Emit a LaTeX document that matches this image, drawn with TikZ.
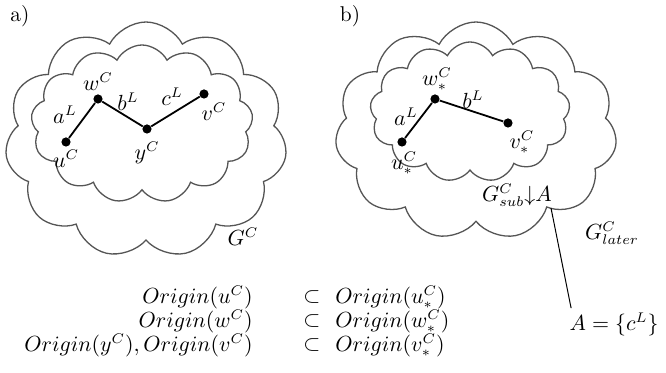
\documentclass[tikz,border=0pt]{standalone}
\usepackage{tikz}
\usetikzlibrary{shapes.symbols}
\definecolor{cCloud}{HTML}{555555}
\tikzset{
  cloud-box/.style={draw=cCloud,line width=0.65pt,cloud,cloud puffs=11,
    cloud puff arc=125,cloud ignores aspect,inner sep=0pt},
  graph-dot/.style={circle,fill=black,inner sep=0pt,minimum size=4.6pt},
  graph-edge/.style={line width=0.9pt,draw=black},
  lbl/.style={inner sep=0pt},
}
\begin{document}
\begin{tikzpicture}[x=0.5pt,y=-0.5pt, every node/.style={font=\fontsize{10.7}{12}\selectfont}]
  \useasboundingbox (0,0) rectangle (666,373);
  % a) -- graph before
  \node at (20,16) {a)};
  \node[cloud-box,minimum width=141pt,minimum height=118pt] (outerA) at (146,140) {};
  \node[cloud-box,minimum width=111pt,minimum height=79pt,cloud puffs=13] (innerA) at (142,124) {};
  \node[graph-dot] (uA) at (66,142) {};
  \node[graph-dot] (wA) at (98,99) {};
  \node[graph-dot] (yA) at (147,129) {};
  \node[graph-dot] (vA) at (204,94) {};
  \draw[graph-edge] (uA) -- (wA) -- (yA) -- (vA);
  \node[lbl] (uAl) at (66,159) {$u^C$};
  \node[lbl] (wAl) at (98,82) {$w^C$};
  \node[lbl] (yAl) at (147,153) {$y^C$};
  \node[lbl] (vAl) at (214,112) {$v^C$};
  \node[lbl] (aAl) at (65,115) {$a^L$};
  \node[lbl] (bAl) at (128,102) {$b^L$};
  \node[lbl] (cAl) at (172,97) {$c^L$};
  \node[lbl] (gA) at (243,237) {$G^C$};
  % b) -- graph after
  \node at (350,16) {b)};
  \node[cloud-box,minimum width=141pt,minimum height=109pt] (outerB) at (476,131) {};
  \node[cloud-box,minimum width=100pt,minimum height=70pt,cloud puffs=13] (innerB) at (470,112) {};
  \node[graph-dot] (uB) at (402,142) {};
  \node[graph-dot] (wB) at (435,99) {};
  \node[graph-dot] (vB) at (508,123) {};
  \draw[graph-edge] (uB) -- (wB) -- (vB);
  \node[lbl] (uBl) at (404,163) {$u^C_*$};
  \node[lbl] (wBl) at (437,79) {$w^C_*$};
  \node[lbl] (vBl) at (522,142) {$v^C_*$};
  \node[lbl] (aBl) at (406,117) {$a^L$};
  \node[lbl] (bBl) at (473,100) {$b^L$};
  \node[lbl] (gsub) at (517,195) {$G^C_{sub}{\downarrow}A$};
  \node[lbl] (glater) at (612,233) {$G^C_{later}$};
  \node[lbl] (aset) at (614,324) {$A=\{c^L\}$};
  \coordinate (selA) at (551,208);
  \draw[line width=0.5pt] (selA) -- ([shift={(2,-4)}]aset.north west);
  % origin relations
  \foreach \l/\r/\y in {{u^C}/{u^C_*}/297, {w^C}/{w^C_*}/321, {y^C), Origin(v^C}/{v^C_*}/345}{
    \node[anchor=east,lbl] at (253,\y) {$Origin(\l)$};
    \node[lbl] at (312,\y) {$\subset$};
    \node[anchor=west,lbl] at (335,\y) {$Origin(\r)$};
  }
\end{tikzpicture}
\end{document}
